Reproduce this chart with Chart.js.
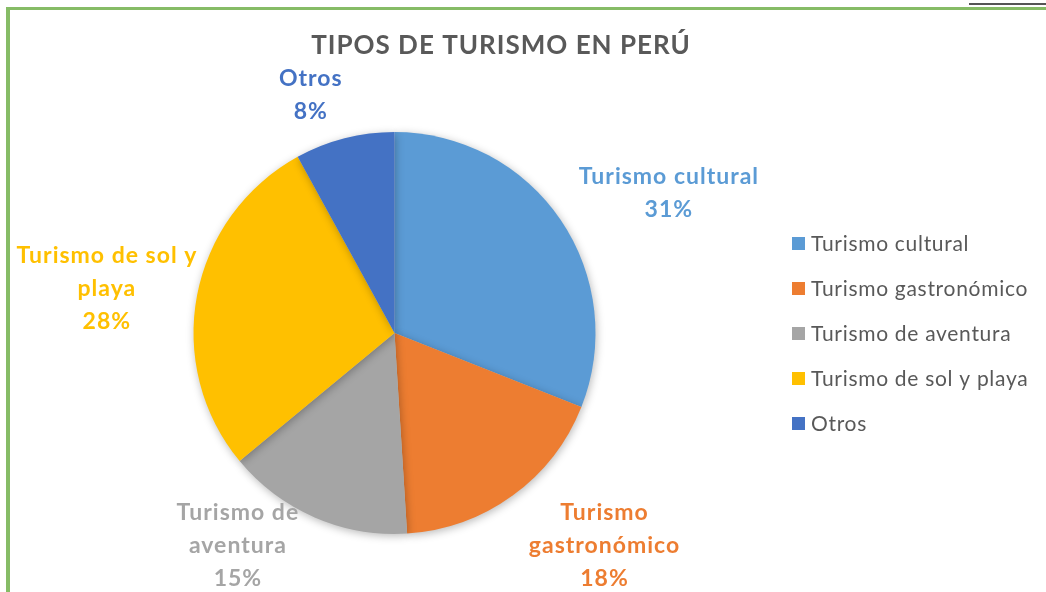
<!DOCTYPE html>
<html>
<head>
<meta charset="utf-8">
<script src="https://cdn.jsdelivr.net/npm/chart.js@4"></script>
<style>
  html, body { margin: 0; padding: 0; background: #fff; }
  #wrap { position: relative; width: 1046px; height: 592px; overflow: hidden; }
  #frame { position: absolute; left: 6px; top: 7px; right: 0; bottom: 0;
           border-left: 4px solid #86bc66; border-top: 3px solid #86bc66; }
  #corner { position: absolute; left: 969px; top: 3px; width: 77px; height: 2px; background: #555; }
  canvas { position: absolute; left: 0; top: 0; }
</style>
</head>
<body>
<div id="wrap">
  <div id="frame"></div>
  <div id="corner"></div>
  <canvas id="pieChart" width="1046" height="592"></canvas>
</div>
<script>
const chartTitle = 'TIPOS DE TURISMO EN PERÚ';
const categories = ['Turismo cultural', 'Turismo gastronómico', 'Turismo de aventura', 'Turismo de sol y playa', 'Otros'];
const percents = [31, 18, 15, 28, 8];
// como Excel los parte en líneas
const labelLines = [
    ['Turismo cultural'],
    ['Turismo', 'gastronómico'],
    ['Turismo de', 'aventura'],
    ['Turismo de sol y', 'playa'],
    ['Otros']
];
const colors = ['#5B9BD5', '#ED7D31', '#A5A5A5', '#FFC000', '#4472C4'];

const FONT = 'Lato, "Open Sans", sans-serif';

// colocación de etiquetas: giro (grados) respecto al ángulo medio y distancia en radios
const labelPlace = [[7.2, 1.532], [-8.6, 1.488], [13, 1.313], [-2, 1.448], [-5, 1.254]];

const shadowPlugin = {
    id: 'shadow',
    beforeDatasetsDraw(chart) {
        const c = chart.ctx;
        c.save();
        c.shadowColor = 'rgba(0,0,0,0.28)';
        c.shadowBlur = 8;
        c.shadowOffsetX = 1;
        c.shadowOffsetY = 2;
    },
    afterDatasetsDraw(chart) {
        chart.ctx.restore();
    }
};

const textPlugin = {
    id: 'texts',
    afterDraw(chart) {
        const c = chart.ctx;
        c.save();
        c.textAlign = 'center';
        c.textBaseline = 'middle';
        // título
        c.fillStyle = '#595959';
        c.font = 'bold 26px ' + FONT;
        c.letterSpacing = '1px';
        c.fillText(chartTitle, 501, 46);

        // etiquetas de datos
        const meta = chart.getDatasetMeta(0);
        const total = percents.reduce((a, b) => a + b, 0);
        c.font = 'bold 23px ' + FONT;
        c.letterSpacing = '1px';
        meta.data.forEach((arc, i) => {
            const p = arc.getProps(['x', 'y', 'startAngle', 'endAngle', 'outerRadius'], true);
            const mid = (p.startAngle + p.endAngle) / 2 + labelPlace[i][0] * Math.PI / 180;
            const d = p.outerRadius * labelPlace[i][1];
            const cx = p.x + Math.cos(mid) * d;
            const cy = p.y + Math.sin(mid) * d;
            const lines = labelLines[i].concat([Math.round(percents[i] / total * 100) + '%']);
            const lh = 33;
            const y0 = cy - (lines.length - 1) * lh / 2;
            c.fillStyle = colors[i];
            lines.forEach((t, k) => c.fillText(t, cx, y0 + k * lh));
        });

        // leyenda
        c.font = '21px ' + FONT;
        c.letterSpacing = '0.7px';
        c.textAlign = 'left';
        categories.forEach((name, i) => {
            const y = 243 + i * 45;
            c.fillStyle = colors[i];
            c.fillRect(792, y - 6, 13, 13);
            c.fillStyle = '#595959';
            c.fillText(name, 811, y + 1);
        });
        c.restore();
    }
};

new Chart(document.getElementById('pieChart').getContext('2d'), {
    type: 'pie',
    data: {
        labels: categories,
        datasets: [{
            data: percents,
            backgroundColor: colors,
            borderWidth: 0
        }]
    },
    options: {
        responsive: false,
        animation: false,
        layout: { padding: { left: 193, right: 450, top: 132, bottom: 58 } },
        plugins: {
            legend: { display: false },
            title: { display: false },
            tooltip: { enabled: false }
        }
    },
    plugins: [shadowPlugin, textPlugin]
});
</script>
</body>
</html>
